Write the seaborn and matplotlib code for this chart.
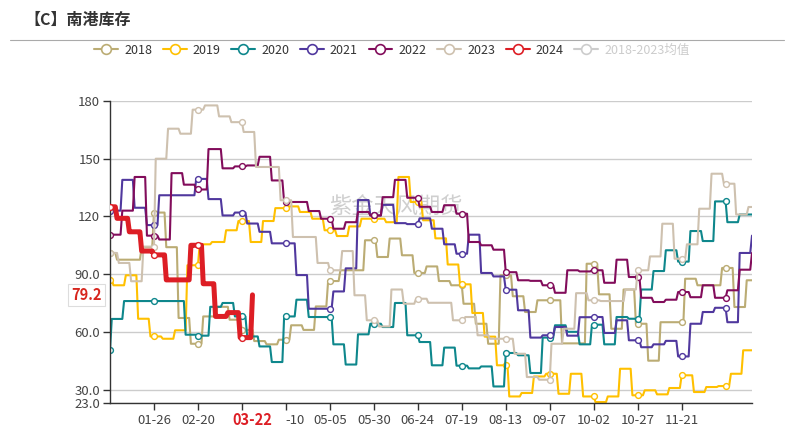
import numpy as np
import pandas as pd
import matplotlib
matplotlib.use("Agg")
import matplotlib.pyplot as plt
import matplotlib.transforms as mtransforms
from matplotlib.lines import Line2D
import seaborn as sns

# ---------------- data ----------------
title = "【C】南港库存"
watermark = "紫金天风期货"
years = ["2018", "2019", "2020", "2021", "2022", "2023", "2024"]
avg_label = "2018-2023均值"
# weekday of the weekly report for each year (Mon=0)
report_weekday = [4, 3, 3, 4, 5, 4, 4]

y2018 = [101, 97.5, 97.5, 104, 122, 104, 67.2, 53.8, 68, 73, 66.3, 61, 55.2, 53.5, 55.9,
         63.4, 61, 73.2, 86.4, 92, 92, 107.6, 98.9, 108.5, 99.8, 90.6, 94, 86.4, 84.2, 74.6,
         64.2, 53.8, 89.4, 78.5, 70.3, 76.4, 76.4, 54, 54, 95.4, 79.5, 61.6, 82, 64.2, 45,
         65, 65, 87.6, 84.2, 84.2, 93.2, 72.9, 86.8]
y2019 = [86.8, 84.2, 89.4, 66.8, 57.6, 56.4, 60.8, 94.6, 105.5, 106.7, 112.8, 117.6, 106.7,
         117.6, 124.3, 125.2, 122.3, 118.8, 112.8, 109.8, 114.8, 118.8, 118.8, 117, 140.5,
         127.5, 118, 108.6, 95, 84.7, 69.8, 57.5, 42.6, 26.4, 28.2, 36.8, 38.2, 27.8, 38.2,
         26.4, 23.5, 26.4, 40.8, 27, 29.6, 27.5, 30.8, 37.4, 28.7, 31.3, 31.8, 38.2, 50.4]
y2020 = [50.4, 66.7, 76, 76, 76, 76, 76, 58.5, 58, 73, 75, 68, 57.6, 52.4, 44.3, 68, 76.7,
         67.7, 67.7, 53.5, 43, 58.7, 64.2, 62.5, 75, 58.2, 54.7, 42.6, 51.8, 42.4, 41, 42,
         31.6, 49, 47.8, 38.6, 57, 63.4, 60, 53.5, 63.7, 53.5, 67.7, 66.8, 82, 91.6, 102.4,
         96.5, 112.4, 107.2, 127.8, 117, 121, 121]
y2021 = [123, 139, 124.5, 115.5, 131, 131, 131, 139.5, 129, 120.5, 122, 116.3, 112, 106,
         106, 89.5, 72, 72, 81, 93, 128.5, 120.5, 126, 116.5, 116, 119, 113.6, 105.5,
         100.6, 110.5, 90.6, 88.8, 81.9, 71.2, 57, 58.2, 62.5, 58, 67.6, 67.7, 59.4, 66,
         55.6, 52, 53.5, 55.3, 47.2, 64.2, 70.3, 72.5, 65, 101, 110]
y2022 = [110.5, 123, 140.5, 110, 108, 142.5, 136.5, 134, 155, 145, 146, 146.5, 151, 138.7,
         127.5, 127.5, 122.8, 118.8, 113.6, 117, 122.3, 120.5, 130, 139, 129.7, 125, 122.3,
         125.8, 121.4, 106.7, 105, 102.7, 91, 86.8, 86.5, 84.2, 80.3, 92, 91.4, 92, 85.5,
         97.5, 88.5, 77.7, 75.5, 76.7, 80.7, 78, 84.2, 77.7, 81.6, 92.3, 101]
y2023 = [101, 95.8, 86.3, 104.3, 150, 165.6, 163, 175.5, 177.7, 172, 169, 163.9, 145.7,
         145.7, 128.4, 109.3, 109.3, 95.8, 92, 102, 79, 66, 62.8, 82, 74.6, 77.2, 75.1,
         75.1, 66, 67.7, 58.2, 56.4, 56.4, 48.6, 36.5, 35.1, 53.8, 61.6, 80.1, 76.4, 76, 76,
         82, 92, 99.2, 116.2, 98, 105.5, 124, 142.2, 137, 121, 124.9]
y2024 = [125, 119, 112, 102, 100, 87, 87, 105, 85, 68, 70, 57, 79.2]
series_values = [y2018, y2019, y2020, y2021, y2022, y2023, y2024]

latest_label = "79.2"
latest_date = "03-22"
ytick_values = [23, 30, 60, 90, 120, 150, 180]
ytick_labels = ["23.0", "30.0", "60.0", "90.0", "120", "150", "180"]

colors = ["#BBAC74", "#FFC000", "#0E878C", "#50389E", "#820C5B", "#CEC1AF", "#DD1E25"]
avg_color = "#cccccc"

# ---------------- build daily series on a MM-DD category axis ----------------
axis_dates = pd.date_range("2024-01-01", "2024-12-31")
cats = list(axis_dates.strftime("%m-%d"))
pos = {c: i for i, c in enumerate(cats)}

frames = []
for yr, wd, vals in zip(years, report_weekday, series_values):
    y = int(yr)
    jan1 = pd.Timestamp(f"{y}-01-01")
    first = jan1 - pd.Timedelta(days=(jan1.weekday() - wd) % 7)
    dates = first + pd.to_timedelta(np.arange(len(vals)) * 7, unit="D")
    s = pd.Series(vals, index=dates, dtype=float)
    end = dates[-1] if yr == "2024" else pd.Timestamp(f"{y}-12-31")
    daily = s.reindex(pd.date_range(first, end)).ffill()
    daily = daily[daily.index.year == y]
    ser = pd.Series(daily.values, index=daily.index.strftime("%m-%d"))
    if yr != "2024":
        ser = ser.reindex(cats).ffill()
    frames.append(pd.DataFrame({"idx": [pos[c] for c in ser.index],
                                "value": ser.values, "year": yr}))
df = pd.concat(frames, ignore_index=True)

# ---------------- figure ----------------
sns.set_style("white")
plt.rcParams["font.family"] = ["Noto Sans CJK SC", "DejaVu Sans"]

W, H = 794, 430
fig = plt.figure(figsize=(W / 100, H / 100), dpi=100)
ax = fig.add_axes([110 / W, 1 - 403 / H, 642 / W, 302 / H])

for yr, col in zip(years, colors):
    d = df[df["year"] == yr].sort_values("idx")
    lw = 3.6 if yr == "2024" else 1.5
    sns.lineplot(data=d, x="idx", y="value", ax=ax, color=col, linewidth=lw,
                 estimator=None, sort=True, marker="o", markevery=25,
                 markersize=4.2, markerfacecolor="white", markeredgecolor=col,
                 markeredgewidth=1.0, zorder=3 if yr == "2024" else 2)

ax.set_xlim(0, len(cats) - 1)
ax.set_ylim(23, 180)
ax.set_xlabel("")
ax.set_ylabel("")

ax.set_yticks(ytick_values)
ax.set_yticklabels(ytick_labels)
ax.yaxis.grid(True, color="#cccccc", linewidth=1.0)
ax.xaxis.grid(False)

# x ticks every 25 categories; the one at 03-16 is hidden by the current-date
# label and the neighbouring 04-10 is partly covered (only "-10" visible)
xt = list(range(25, 326, 25))
xlabels = []
for p in xt:
    if p == 75:
        xlabels.append("")
    elif p == 100:
        xlabels.append(cats[p][2:])
    else:
        xlabels.append(cats[p])
ax.set_xticks(xt)
ax.set_xticklabels(xlabels)
for lbl, p in zip(ax.get_xticklabels(), xt):
    if p == 100:
        lbl.set_horizontalalignment("left")

for side in ["top", "right"]:
    ax.spines[side].set_visible(False)
for side in ["left", "bottom"]:
    ax.spines[side].set_color("#333333")
    ax.spines[side].set_linewidth(1.0)

ax.tick_params(axis="y", length=5, width=1, color="#333333", labelsize=9.5,
               labelcolor="#444444", pad=2, left=True)
ax.tick_params(axis="x", length=5, width=1, color="#333333", labelsize=9.5,
               labelcolor="#444444", pad=3, bottom=True)

# highlighted current date on x axis
blend_x = mtransforms.blended_transform_factory(ax.transData, ax.transAxes)
latest_idx = pos[latest_date]
ax.text(latest_idx, -0.055, latest_date, transform=blend_x, ha="center", va="center",
        fontsize=10.5, fontweight="bold", color="#DD1E25", zorder=6, clip_on=False)

# latest value label on y axis
blend_y = mtransforms.blended_transform_factory(ax.transAxes, ax.transData)
ax.text(-0.036, y2024[-1], latest_label, transform=blend_y, ha="center", va="center",
        fontsize=10.5, fontweight="bold", color="#D7261E", zorder=6, clip_on=False,
        bbox=dict(boxstyle="square,pad=0.22", facecolor="white", edgecolor="#dddddd",
                  linewidth=0.8))

# watermark
ax.text(396 / W, 1 - 207 / H, watermark, transform=fig.transFigure, ha="center",
        va="center", fontsize=16, color="#cfcfcf", zorder=1)

# title and separator
fig.text(24 / W, 1 - 20 / H, title, ha="left", va="center", fontsize=11.5,
         fontweight="bold", color="#333333")
fig.add_artist(Line2D([10 / W, 784 / W], [1 - 40 / H, 1 - 40 / H], color="#aaaaaa",
                      linewidth=0.8))

# legend
handles = [Line2D([0], [0], color=c, lw=1.5, marker="o", markersize=7,
                  markerfacecolor="white", markeredgecolor=c, markeredgewidth=1.2)
           for c in colors]
handles.append(Line2D([0], [0], color=avg_color, lw=1.5, marker="o", markersize=7,
                      markerfacecolor="white", markeredgecolor=avg_color,
                      markeredgewidth=1.2))
leg = fig.legend(handles, years + [avg_label], loc="center",
                 bbox_to_anchor=(392 / W, 1 - 50 / H), ncol=8, frameon=False,
                 fontsize=9, handlelength=1.9, handletextpad=0.5, columnspacing=0.85)
for t in leg.get_texts():
    t.set_color("#333333")
leg.get_texts()[-1].set_color(avg_color)

fig.savefig("out.png", dpi=100)
